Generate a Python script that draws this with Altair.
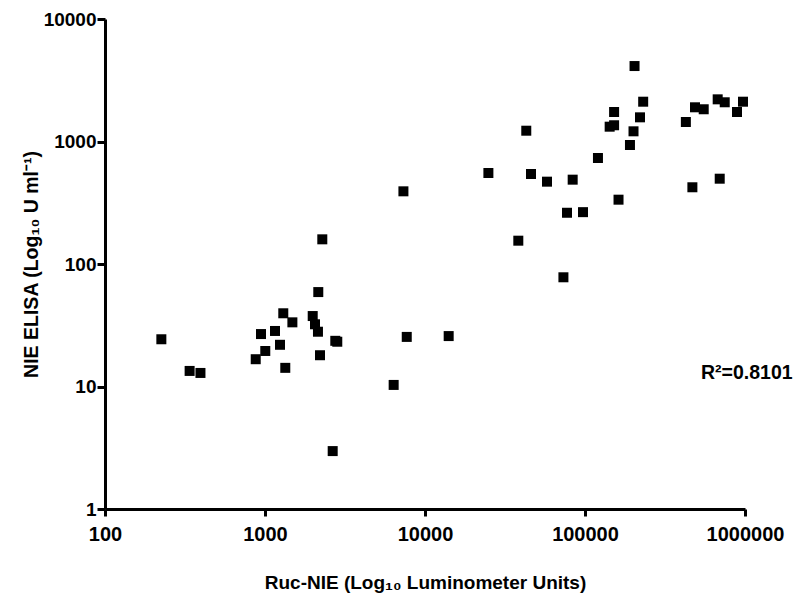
import altair as alt
import pandas as pd

ruc_nie = [225, 338, 395, 875, 1004, 944, 1155, 1241, 1301, 1339, 1483, 1987, 2053,
           2143, 2153, 2207, 2750, 2830, 2649, 2281, 6370, 7330, 7690, 14060,
           24900, 38300, 42950, 45970, 57880, 73300, 77200, 83750, 97200, 120500,
           142600, 152000, 152000, 162000, 191000, 201000, 204000, 220600, 231000,
           427000, 469000, 487000, 552000, 675000, 695000, 747000, 891000, 972000]
nie_elisa = [24.3, 13.4, 12.9, 16.7, 19.5, 26.8, 28.4, 21.9, 39.6, 14.2, 33.4, 37.6, 32.2,
             28.0, 59.0, 18.0, 23.6, 23.2, 2.97, 159, 10.3, 392, 25.4, 25.8,
             553, 155, 1225, 543, 470, 77.9, 262, 488, 265, 733,
             1321, 1357, 1741, 335, 936, 1211, 4130, 1575, 2113,
             1443, 423, 1902, 1833, 2209, 497, 2090, 1741, 2113]
x_ticks = [100, 1000, 10000, 100000, 1000000]
y_ticks = [1, 10, 100, 1000, 10000]
annotation = ["R²=0.8101"]
ann_x = [531000]
ann_y = [12.9]

FONT = "Liberation Sans"

df = pd.DataFrame({"x": ruc_nie, "y": nie_elisa})
ann = pd.DataFrame({"x": ann_x, "y": ann_y, "t": annotation})

xscale = alt.Scale(type="log", domain=[100, 1000000], nice=False)
yscale = alt.Scale(type="log", domain=[1, 10000], nice=False)

points = alt.Chart(df).mark_square(size=100, color="black", opacity=1).encode(
    x=alt.X("x:Q", scale=xscale,
            axis=alt.Axis(values=x_ticks, format="d", title="Ruc-NIE (Log₁₀ Luminometer Units)",
                          grid=False, domainColor="black", domainWidth=3,
                          tickColor="black", tickWidth=3, tickSize=7,
                          labelFont=FONT, labelFontSize=20, labelFontWeight="bold",
                          labelColor="black", labelPadding=8, labelFlush=False,
                          titleFont=FONT, titleFontSize=19, titleFontWeight="bold",
                          titleColor="black", titleY=73, titleBaseline="middle")),
    y=alt.Y("y:Q", scale=yscale,
            axis=alt.Axis(values=y_ticks, format="d", title="NIE ELISA (Log₁₀ U ml⁻¹)",
                          grid=False, domainColor="black", domainWidth=3,
                          tickColor="black", tickWidth=3, tickSize=8,
                          labelFont=FONT, labelFontSize=19, labelFontWeight="bold",
                          labelColor="black", labelPadding=1, labelFlush=False,
                          titleFont=FONT, titleFontSize=19.5, titleFontWeight="bold",
                          titleColor="black", titleX=-74, titleY=245,
                          titleBaseline="middle")),
)

text = alt.Chart(ann).mark_text(align="left", baseline="middle", font=FONT,
                                fontSize=19.5, fontWeight="bold", color="black").encode(
    x=alt.X("x:Q", scale=xscale),
    y=alt.Y("y:Q", scale=yscale),
    text="t:N",
)

chart = alt.layer(points, text).properties(
    width=640, height=490, autosize="none",
    padding={"left": 97, "top": 11, "right": 50, "bottom": 85},
).configure_view(stroke=None)

chart.save("out.html", embed_options={"renderer": "svg", "actions": False})
